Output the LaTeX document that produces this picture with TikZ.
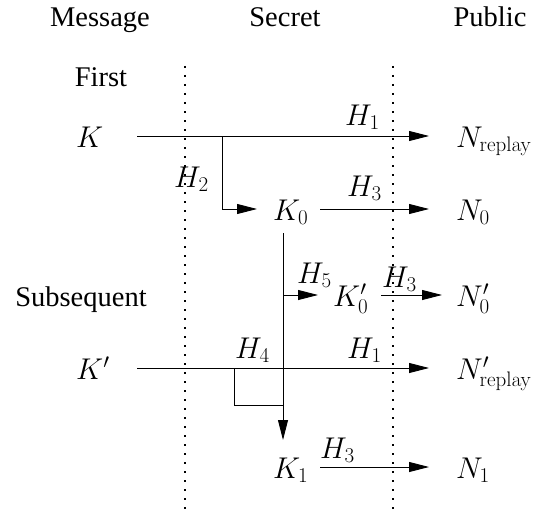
\RequirePackage{fix-cm}
\documentclass[tikz,border=0pt]{standalone}
\usepackage[no-math]{fontspec}
\setmainfont{Liberation Serif}
\usetikzlibrary{arrows.meta}
\tikzset{
  word/.style={font=\fontsize{28.5}{34}\selectfont, inner sep=0pt, anchor=base},
  sym/.style={font=\fontsize{30}{36}\selectfont, inner sep=0pt, anchor=base west},
  flow/.style={line width=0.9pt, -{Triangle[length=20pt,width=10pt]}},
  wire/.style={line width=0.9pt},
  divider/.style={line width=1.2pt, dash pattern=on 1.6pt off 7.4pt},
}
\begin{document}
\begin{tikzpicture}[x=1pt,y=-1pt]
\useasboundingbox (0,0) rectangle (541,511);

% column headings
\node[word] (msg) at (100,27) {Message};
\node[word] (sec) at (285,27) {Secret};
\node[word] (pub) at (490,27) {Public};
\node[word] (first) at (101,87) {First};
\node[word] (subs) at (81,306) {Subsequent};

% column dividers
\coordinate (d1t) at (185,66);
\coordinate (d1b) at (185,511);
\coordinate (d2t) at (393,66);
\coordinate (d2b) at (393,511);
\draw[divider] (d1t) -- (d1b);
\draw[divider] (d2t) -- (d2b);

% first message
\node[sym] (K) at (76,147) {$K$};
\node[sym] (Nr) at (456,147) {$N_{\mathrm{replay}}$};
\node[sym] (K0) at (273,220) {$K_0$};
\node[sym] (N0) at (456,220) {$N_0$};

\coordinate (kst) at (137,136);
\coordinate (ktip) at (429,136);
\coordinate (br) at (222,136);
\coordinate (brc) at (222,209);
\coordinate (brtip) at (257,209);
\draw[flow] (kst) -- (ktip);
\draw[flow] (br) -- (brc) -- (brtip);
\node[sym] (h1a) at (345,125) {$H_1$};
\node[sym] (h2) at (174,187) {$H_2$};

\coordinate (k0s) at (320,209);
\coordinate (k0t) at (429,209);
\draw[flow] (k0s) -- (k0t);
\node[sym] (h3a) at (347,196) {$H_3$};

% secret chain downwards
\coordinate (vtop) at (283,233);
\coordinate (vtip) at (283,440);
\coordinate (v5) at (283,295);
\coordinate (v5tip) at (318,295);
\draw[flow] (vtop) -- (vtip);
\draw[flow] (v5) -- (v5tip);
\node[sym] (h5) at (297,283) {$H_5$};
\node[sym] (K0p) at (333,306) {$K_0'$};
\node[sym] (N0p) at (456,306) {$N_0'$};
\coordinate (k0ps) at (381,295);
\coordinate (k0pt) at (442,295);
\draw[flow] (k0ps) -- (k0pt);
\node[sym] (h3b) at (382,287) {$H_3$};

% subsequent message
\node[sym] (Kp) at (76,379) {$K'$};
\node[sym] (Nrp) at (456,379) {$N'_{\mathrm{replay}}$};
\coordinate (kps) at (137,368);
\coordinate (kpt) at (429,368);
\draw[flow] (kps) -- (kpt);
\node[sym] (h4) at (235,358) {$H_4$};
\node[sym] (h1b) at (347,358) {$H_1$};
\coordinate (bx1) at (234,368);
\coordinate (bx2) at (234,405);
\coordinate (bx3) at (283,405);
\draw[wire] (bx1) -- (bx2) -- (bx3);

\node[sym] (K1) at (273,478) {$K_1$};
\node[sym] (N1) at (456,478) {$N_1$};
\coordinate (k1s) at (320,467);
\coordinate (k1t) at (429,467);
\draw[flow] (k1s) -- (k1t);
\node[sym] (h3c) at (320,458) {$H_3$};
\end{tikzpicture}
\end{document}
